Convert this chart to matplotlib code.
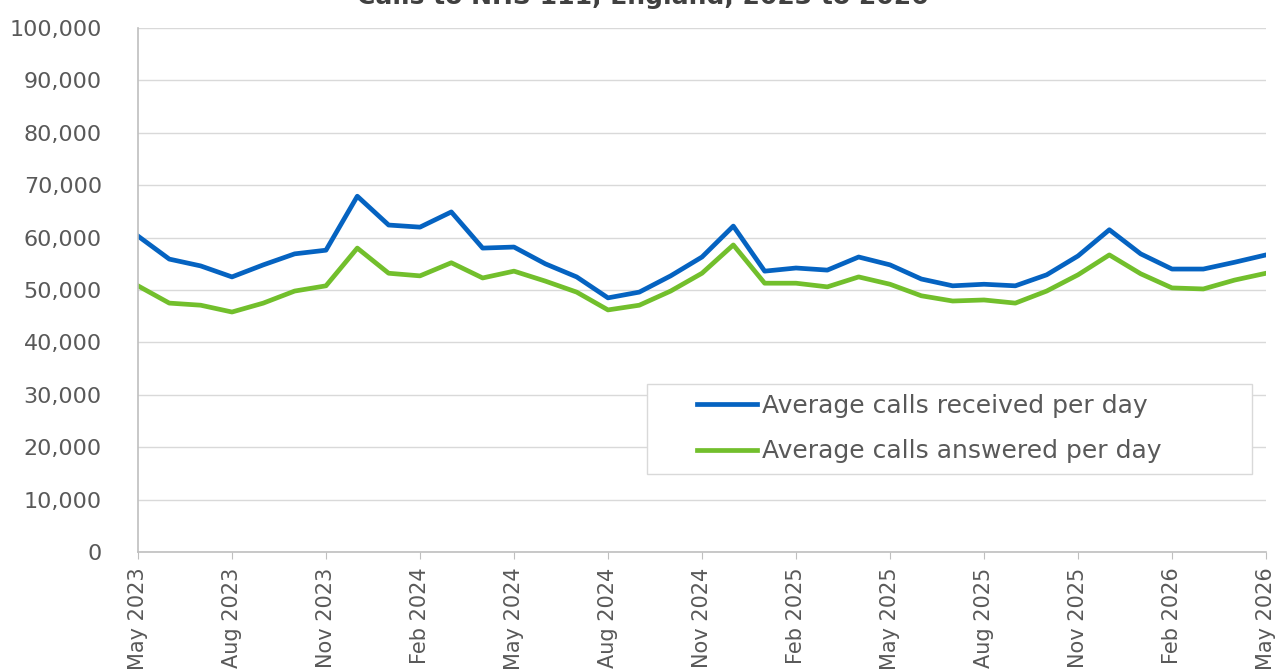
import numpy as np
import matplotlib
matplotlib.use("Agg")
import matplotlib.pyplot as plt
from matplotlib.patches import Rectangle

# monthly values, May 2023 .. May 2026
months = ["May 2023", "Jun 2023", "Jul 2023", "Aug 2023", "Sep 2023", "Oct 2023",
          "Nov 2023", "Dec 2023", "Jan 2024", "Feb 2024", "Mar 2024", "Apr 2024",
          "May 2024", "Jun 2024", "Jul 2024", "Aug 2024", "Sep 2024", "Oct 2024",
          "Nov 2024", "Dec 2024", "Jan 2025", "Feb 2025", "Mar 2025", "Apr 2025",
          "May 2025", "Jun 2025", "Jul 2025", "Aug 2025", "Sep 2025", "Oct 2025",
          "Nov 2025", "Dec 2025", "Jan 2026", "Feb 2026", "Mar 2026", "Apr 2026",
          "May 2026"]

received = [60300, 55900, 54600, 52500, 54800, 56900, 57600, 67900, 62400, 62000,
            64900, 58000, 58200, 55000, 52500, 48500, 49600, 52700, 56300, 62200,
            53600, 54200, 53800, 56300, 54800, 52100, 50800, 51100, 50800, 52900,
            56500, 61500, 56900, 54000, 54000, 55300, 56700]

answered = [50800, 47500, 47100, 45800, 47500, 49800, 50800, 58000, 53200, 52700,
            55200, 52300, 53600, 51700, 49600, 46200, 47100, 49800, 53200, 58600,
            51300, 51300, 50600, 52500, 51100, 48900, 47900, 48100, 47500, 49800,
            52900, 56700, 53100, 50400, 50200, 51900, 53200]

title = "Calls to NHS 111, England, 2023 to 2026"

grey_text = "#595959"
blue = "#0563C1"
green = "#72BF2C"

plt.rcParams['font.family'] = 'DejaVu Sans'

fig = plt.figure(figsize=(12.81, 6.69), dpi=100)
ax = fig.add_axes([0.1077, 0.1749, 0.8806, 0.7832])

x = np.arange(len(months))
ax.plot(x, received, color=blue, lw=3.4, label="Average calls received per day")
ax.plot(x, answered, color=green, lw=3.4, label="Average calls answered per day")

ax.set_xlim(0, len(months) - 1)
ax.set_ylim(0, 100000)
ax.set_yticks(np.arange(0, 100001, 10000))
ax.set_yticklabels([f"{v:,}" for v in range(0, 100001, 10000)])
ax.yaxis.grid(True, color="#d9d9d9", lw=1)
ax.set_axisbelow(True)

ax.set_xticks(x[::3])
ax.set_xticklabels(months[::3], rotation=90)

for s in ["top", "right"]:
    ax.spines[s].set_visible(False)
for s in ["left", "bottom"]:
    ax.spines[s].set_color("#bfbfbf")
    ax.spines[s].set_linewidth(1.2)

ax.tick_params(axis='y', length=0, pad=26, labelsize=16, labelcolor=grey_text)
ax.tick_params(axis='x', length=5, color="#bfbfbf", pad=6, labelsize=15,
               labelcolor=grey_text)

# legend frame drawn separately so the entries can sit indented inside it
ax.add_patch(Rectangle((0.451, 0.149), 0.537, 0.1716, transform=ax.transAxes,
                       facecolor="white", edgecolor="#d9d9d9", lw=1, zorder=4))
leg = ax.legend(loc='upper left', bbox_to_anchor=(0.4956, 0.302),
                fontsize=18, frameon=False, handlelength=2.4,
                handletextpad=0.2, labelspacing=0.86, borderpad=0,
                borderaxespad=0)
leg.set_zorder(5)
for t in leg.get_texts():
    t.set_color(grey_text)

fig.text(0.502, 1 - 4 / 669, title, ha='center', va='baseline',
         fontsize=18, fontweight='bold', color="#404040")

fig.savefig("out.png", dpi=100)
